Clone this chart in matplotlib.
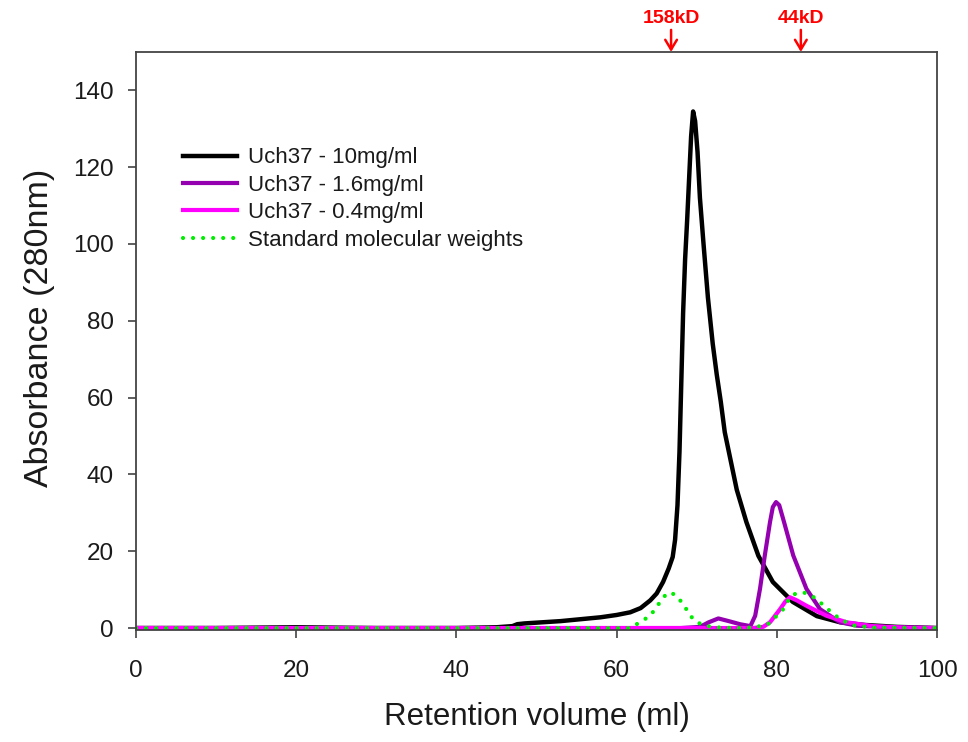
import numpy as np
import matplotlib
matplotlib.use('Agg')
import matplotlib.pyplot as plt

plt.rcParams['font.family'] = ['Liberation Sans', 'DejaVu Sans']

# Uch37 - 10mg/ml (black)
x_10 = [0, 10, 20, 30, 40, 45, 47, 47.6, 48.5, 50, 53, 56, 58, 60, 61.7, 63, 64.2, 65, 65.8,
        66.5, 67, 67.3, 67.6, 67.85, 68.05, 68.3, 68.55, 68.8, 69.05, 69.3, 69.55,
        69.8, 70.1, 70.4, 70.85, 71.4, 72.0, 72.5, 73.0, 73.5, 74.1, 75.0, 76.2, 77.7,
        79.5, 82.0, 85.0, 87.9, 91, 95, 100]
y_10 = [0, 0, 0.2, 0, 0, 0.2, 0.5, 1.0, 1.2, 1.4, 1.8, 2.4, 2.8, 3.4, 4.1, 5.2, 7.2, 9, 12,
        15.5, 18.5, 23, 32, 46, 62, 82, 96, 106, 117, 128, 134.5,
        132, 124, 112, 100, 86, 74, 66, 59, 51, 45, 36, 27.6, 18.8,
        12, 6.8, 3.1, 1.5, 0.8, 0.3, 0]

# Uch37 - 1.6mg/ml (purple)
x_16 = [0, 20, 40, 60, 68, 70.4, 71.5, 72.7, 74, 75.4, 76.7, 77.3, 77.9, 78.5, 79.15,
        79.5, 79.9, 80.3, 80.9, 82.05, 83.7, 85.4, 87.9, 90, 94, 100]
y_16 = [0, 0, 0, 0, 0, 0.3, 1.5, 2.5, 1.8, 1.0, 0.5, 3.2, 10.2, 18.9, 27.6,
        31.5, 32.8, 32.0, 27.6, 18.9, 10.2, 4.9, 1.5, 0.6, 0.2, 0]

# Uch37 - 0.4mg/ml (magenta)
x_04 = [0, 20, 40, 60, 70, 77, 78.3, 79.15, 80.4, 81.1, 81.65, 82.5, 83.7, 86.2, 88.7,
        92, 96, 100]
y_04 = [0, 0, 0, 0, 0, 0, 0.3, 1.5, 4.9, 7.0, 8.0, 7.2, 5.8, 3.2, 1.5, 0.5, 0.1, 0]

# Standard molecular weights (green dotted)
x_std = [0, 20, 40, 61.7, 62.9, 64.2, 65.4, 66.1, 66.7, 67.4, 68.3, 69.2, 70.0, 71.25,
         73, 76, 77.5, 78.9, 80.0, 80.8, 81.65, 82.3, 82.9, 83.7, 84.5, 85.4, 86.6,
         87.9, 89.5, 92, 100]
y_std = [0, 0, 0, 0, 1.5, 3.2, 6.7, 8.6, 9.3, 8.5, 6.3, 3.2, 1.5, 0.5,
         0.1, 0, 0.3, 1.0, 3.2, 4.9, 8.0, 8.9, 9.3, 9.1, 8.2, 6.7, 4.5,
         2.3, 0.7, 0.1, 0]

markers = ['158kD', '44kD']
marker_x = [66.8, 83.0]

fig = plt.figure(figsize=(9.68, 7.42), dpi=100)
ax = fig.add_axes([0.1405, 0.151, 0.8275, 0.779])

ax.plot(x_10, y_10, color='black', lw=3.2, label='Uch37 - 10mg/ml', solid_joinstyle='round')
ax.plot(x_16, y_16, color='#9400B0', lw=3.0, label='Uch37 - 1.6mg/ml', solid_joinstyle='round')
ax.plot(x_04, y_04, color='#FF00FF', lw=3.0, label='Uch37 - 0.4mg/ml', solid_joinstyle='round')
ax.plot(x_std, y_std, color='#00EE00', lw=3.0, ls=(0, (0.01, 2.4)), dash_capstyle='round',
        label='Standard molecular weights')

ax.set_xlim(0, 100)
ax.set_ylim(-0.5, 150)
ax.set_xticks(np.arange(0, 101, 20))
ax.set_yticks(np.arange(0, 141, 20))
ax.tick_params(direction='out', length=5.8, width=1.1, labelsize=17.5, colors='#333333',
               labelcolor='#1a1a1a')
ax.tick_params(axis='x', pad=16)
ax.tick_params(axis='y', pad=10)
ax.tick_params(top=False, right=False)
for s in ax.spines.values():
    s.set_linewidth(1.3)
    s.set_color('#444444')

ax.set_xlabel('Retention volume (ml)', fontsize=22.5, color='#1a1a1a')
ax.set_ylabel('Absorbance (280nm)', fontsize=24.5, color='#1a1a1a')
ax.xaxis.set_label_coords(0.5, -0.125)
ax.yaxis.set_label_coords(-0.101, 0.5225)

leg = ax.legend(loc='upper left', bbox_to_anchor=(0.0587, 0.835), frameon=False,
                fontsize=16, handlelength=2.43, handletextpad=0.5, labelspacing=0.29,
                borderpad=0, borderaxespad=0)
for t in leg.get_texts():
    t.set_color('#1a1a1a')

for lab, mx in zip(markers, marker_x):
    ax.annotate(lab, xy=(mx, 150), xytext=(0, 24), textcoords='offset points',
                ha='center', va='center', color='red', fontsize=14, fontweight='bold',
                annotation_clip=False,
                arrowprops=dict(arrowstyle='->,head_length=0.5,head_width=0.3',
                                color='red', lw=1.8, shrinkA=0, shrinkB=0,
                                mutation_scale=14))

fig.savefig('out.png', dpi=100)
